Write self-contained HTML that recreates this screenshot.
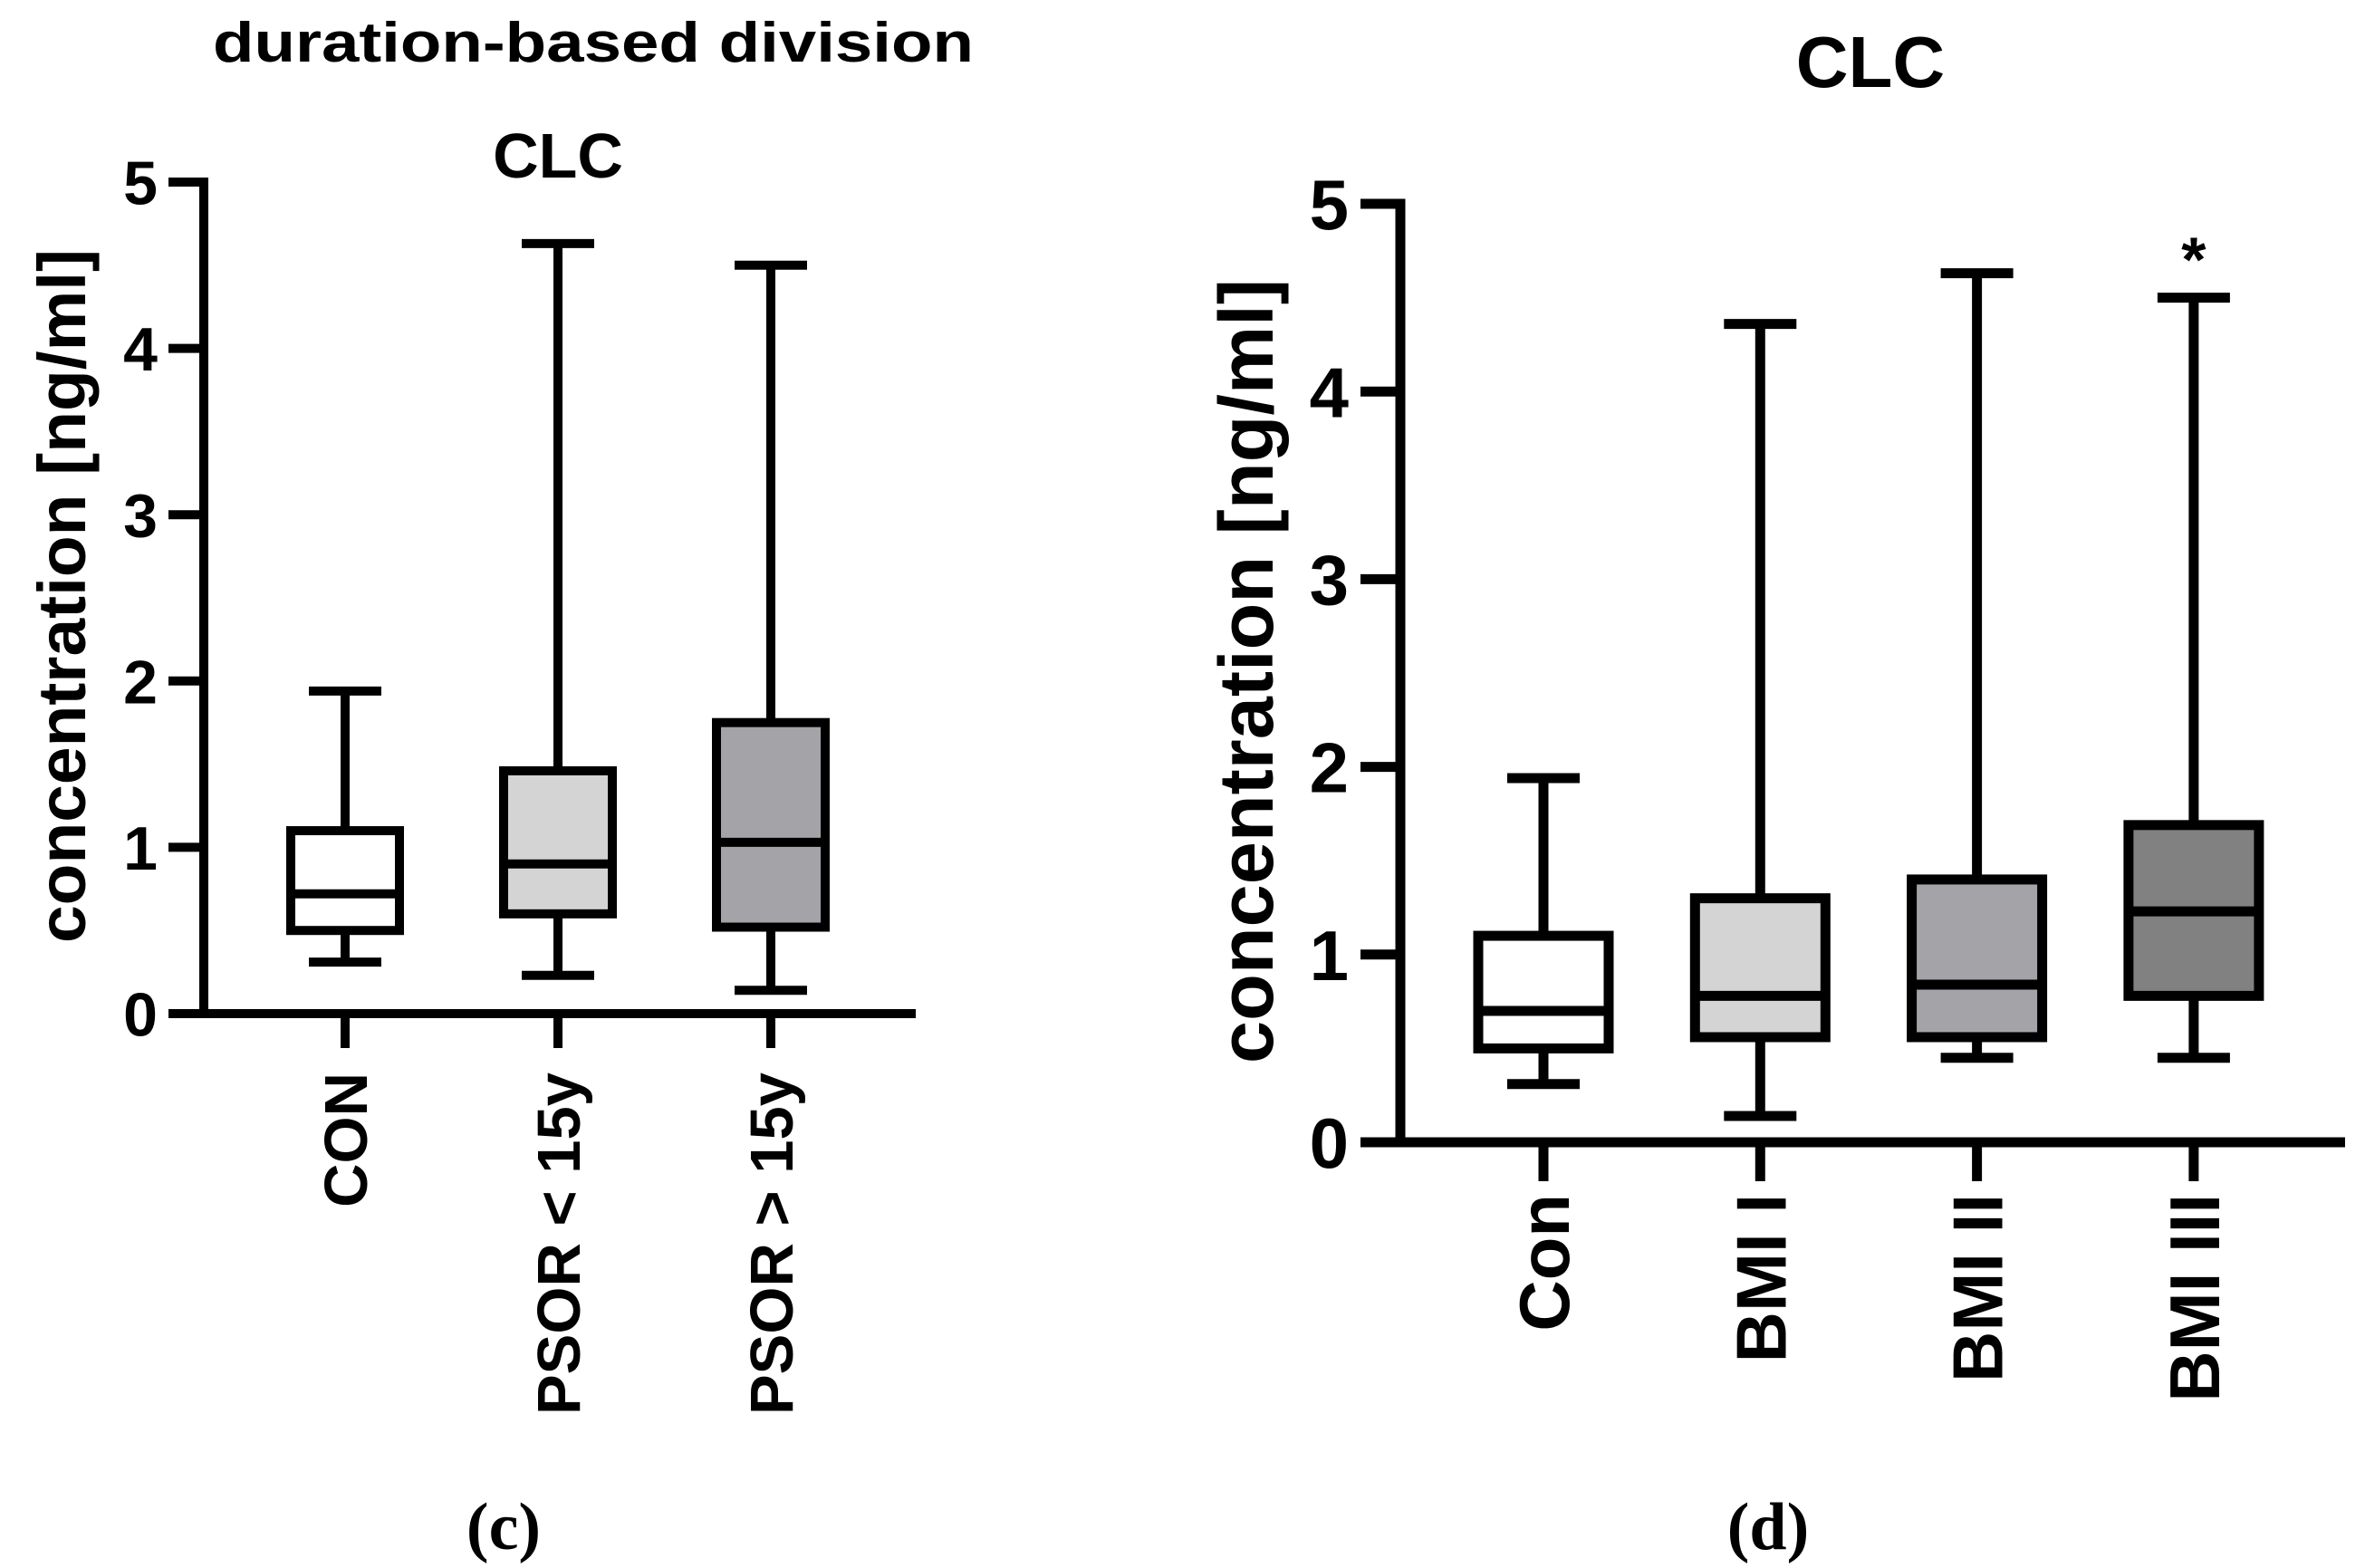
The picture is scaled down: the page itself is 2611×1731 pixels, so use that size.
<!DOCTYPE html>
<html><head><meta charset="utf-8"><style>
html,body{margin:0;padding:0;background:#fff;}
svg{display:block;font-family:"Liberation Sans",Arial,sans-serif;font-weight:bold;}
</style></head><body>
<svg id="fig" width="2611" height="1731" viewBox="0 0 2611 1731" xmlns="http://www.w3.org/2000/svg">
<text x="655" y="68" font-size="62" text-anchor="middle" textLength="840" lengthAdjust="spacingAndGlyphs">duration-based division</text>
<text x="616" y="196" font-size="70" text-anchor="middle">CLC</text>
<text x="2065" y="96" font-size="80" text-anchor="middle">CLC</text>
<text transform="translate(94,658) rotate(-90)" font-size="74" text-anchor="middle" textLength="766" lengthAdjust="spacingAndGlyphs">concentration [ng/ml]</text>
<text transform="translate(1405,741) rotate(-90)" font-size="84" text-anchor="middle" textLength="866" lengthAdjust="spacingAndGlyphs">concentration [ng/ml]</text>
<text x="556" y="1710" font-size="74" text-anchor="middle" font-family="Liberation Serif,serif">(c)</text>
<text x="1952" y="1710" font-size="74" text-anchor="middle" font-family="Liberation Serif,serif">(d)</text>
<g id="left"></g>
<g id="right"></g>
</svg>
<script>
// Left chart data
const leftCategories = ["CON", "PSOR < 15y", "PSOR > 15y"];
const leftMin = [0.31, 0.23, 0.14];
const leftQ1 = [0.50, 0.60, 0.52];
const leftMedian = [0.72, 0.90, 1.03];
const leftQ3 = [1.10, 1.46, 1.75];
const leftMax = [1.94, 4.63, 4.50];
const leftFills = ["#ffffff", "#d4d4d4", "#a4a3a8"];
// Right chart data
const rightCategories = ["Con", "BMI I", "BMI II", "BMI III"];
const rightMin = [0.31, 0.14, 0.45, 0.45];
const rightQ1 = [0.50, 0.56, 0.56, 0.78];
const rightMedian = [0.70, 0.78, 0.84, 1.23];
const rightQ3 = [1.10, 1.30, 1.40, 1.69];
const rightMax = [1.94, 4.36, 4.63, 4.50];
const rightFills = ["#ffffff", "#d4d4d4", "#a4a3a8", "#818181"];
const rightMarks = ["", "", "", "*"];
const yTicks = [0, 1, 2, 3, 4, 5];

const NS = "http://www.w3.org/2000/svg";
function mk(parent, tag, attrs) {
  const e = document.createElementNS(NS, tag);
  for (const k in attrs) e.setAttribute(k, attrs[k]);
  parent.appendChild(e);
  return e;
}
function drawChart(g, cfg) {
  const sw = cfg.sw;
  const y = v => cfg.y0 - (v / 5) * (cfg.y0 - cfg.y5);
  const x0 = cfg.x0, n = cfg.cats.length;
  const x = i => cfg.c0 + i * cfg.step;
  const ya = mk(g, "line", {x1: x0, y1: y(5) - sw/2, x2: x0, y2: cfg.y0 + sw/2, stroke: "#000", "stroke-width": sw});
  
  
  const xa = mk(g, "line", {x1: x0 - cfg.tl, y1: cfg.y0, x2: cfg.xEnd, y2: cfg.y0, stroke: "#000", "stroke-width": sw});
  
  
  yTicks.forEach(t => {
    const tk = mk(g, "line", {x1: x0 - cfg.tl, y1: y(t), x2: x0, y2: y(t), stroke: "#000", "stroke-width": sw});
    
    
    const tx = mk(g, "text", {x: cfg.labX, y: y(t) + cfg.tfs * 0.36, "font-size": cfg.tfs, "text-anchor": "end"});
    tx.textContent = t;
    
    
  });
  for (let i = 0; i < n; i++) {
    const cx = x(i);
    const tk = mk(g, "line", {x1: cx, y1: cfg.y0, x2: cx, y2: cfg.y0 + cfg.xtl, stroke: "#000", "stroke-width": sw});
    
    
    const lb = mk(g, "text", {transform: `translate(${cx + cfg.xfs*0.36},${cfg.xLabStart}) rotate(-90)`, "font-size": cfg.xfs, "text-anchor": "end"});
    lb.textContent = cfg.cats[i];
    
    
    const box = mk(g, "g", {});
    
    
    mk(box, "line", {x1: cx, y1: y(cfg.mx[i]), x2: cx, y2: y(cfg.q3[i]), stroke: "#000", "stroke-width": sw});
    mk(box, "line", {x1: cx, y1: y(cfg.mn[i]), x2: cx, y2: y(cfg.q1[i]), stroke: "#000", "stroke-width": sw});
    mk(box, "line", {x1: cx - cfg.cap, y1: y(cfg.mx[i]), x2: cx + cfg.cap, y2: y(cfg.mx[i]), stroke: "#000", "stroke-width": sw});
    mk(box, "line", {x1: cx - cfg.cap, y1: y(cfg.mn[i]), x2: cx + cfg.cap, y2: y(cfg.mn[i]), stroke: "#000", "stroke-width": sw});
    mk(box, "rect", {x: cx - cfg.bw, y: y(cfg.q3[i]), width: 2*cfg.bw, height: y(cfg.q1[i]) - y(cfg.q3[i]), fill: cfg.fills[i], stroke: "#000", "stroke-width": sw});
    mk(box, "line", {x1: cx - cfg.bw, y1: y(cfg.md[i]), x2: cx + cfg.bw, y2: y(cfg.md[i]), stroke: "#000", "stroke-width": sw});
    if (cfg.marks && cfg.marks[i]) {
      const s = mk(g, "text", {x: cx, y: y(cfg.mx[i]) - 18, "font-size": 70, "text-anchor": "middle"});
      s.textContent = cfg.marks[i];
      
      
    }
  }
}
drawChart(document.getElementById("left"), {p: "left", cats: leftCategories, mn: leftMin, q1: leftQ1, md: leftMedian, q3: leftQ3, mx: leftMax, fills: leftFills,
  x0: 225, y0: 1119, y5: 201, c0: 381, step: 235, xEnd: 1011, sw: 10, tl: 39, xtl: 38, bw: 60, cap: 40, labX: 174, tfs: 68, xfs: 67, xLabStart: 1184});
drawChart(document.getElementById("right"), {p: "right", cats: rightCategories, mn: rightMin, q1: rightQ1, md: rightMedian, q3: rightQ3, mx: rightMax, fills: rightFills, marks: rightMarks,
  x0: 1546, y0: 1261, y5: 225, c0: 1704, step: 239.3, xEnd: 2589, sw: 11, tl: 44, xtl: 43, bw: 72, cap: 40, labX: 1489, tfs: 78, xfs: 78, xLabStart: 1318});
</script>
</body></html>
